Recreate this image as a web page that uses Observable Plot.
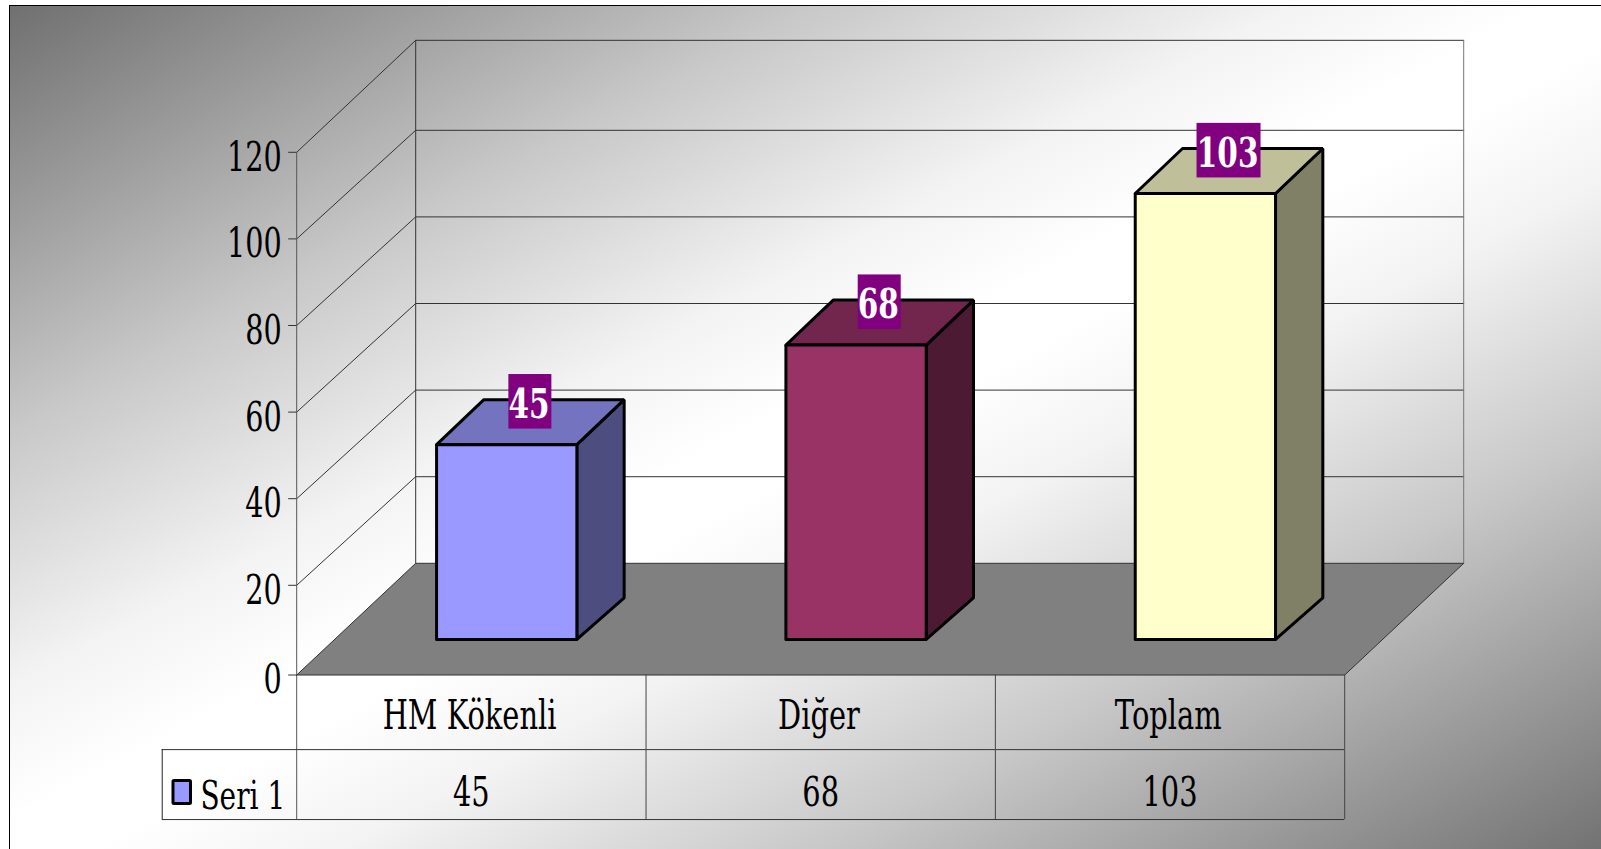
<!DOCTYPE html>
<html><head><meta charset="utf-8">
<script src="https://cdn.jsdelivr.net/npm/d3@7"></script>
<script src="https://cdn.jsdelivr.net/npm/@observablehq/plot@0.6"></script>
<style>
html,body{margin:0;padding:0;background:#fff;overflow:hidden}
#page{position:relative;width:1601px;height:849px;overflow:hidden}
#bg{position:absolute;left:9px;top:5px;width:1600px;height:850px;border-left:1px solid #000;border-top:1px solid #000;
background:linear-gradient(to bottom right,#707070 0%,#c8c8c8 25%,#f3f3f3 40%,#ffffff 48%,#ffffff 52%,#f3f3f3 60%,#c8c8c8 75%,#707070 100%)}
#chart{position:absolute;left:0;top:0}
</style></head><body><div id="page"><div id="bg"></div><div id="chart"></div></div>
<script>
const categories = ["HM Kökenli", "Diğer", "Toplam"];
const values = [45, 68, 103];
const seriesName = "Seri 1";
const yTicks = [0, 20, 40, 60, 80, 100, 120];
const frontColors = ["#9999ff", "#993366", "#ffffcc"];
const topColors = ["#7373bf", "#73264d", "#bfbf99"];
const sideColors = ["#4d4d80", "#4d1a33", "#808066"];

// oblique projection, in scale units
const wallDX = 119 / 349.33, barDX = 0.327, depthY = 25.08;
const d0 = 0.2985, d1 = 0.7125, barLeft = 0.3028, barRight = 0.7044;
const floorDrop = -0.72, topRise = 0.78, sideDrop = -0.8;
const W = (x, v, d) => ({x: x + d * wallDX, y: v + d * depthY});
const B = (x, v, d) => ({x: x + d * barDX, y: v + d * depthY});
const legendX = -0.385, rowA = -17.95, rowB = -34.1;
const catRow = -10.25, valRow = -27.95;

function face(id, pts){ return pts.map(p => ({...p, id})); }
const floorPts = [W(0,floorDrop,0), W(0,0,1), W(3,0,1), W(3,floorDrop,0), W(0,floorDrop,0)];
const fronts = [], tops = [], sides = [];
values.forEach((v, i) => {
  const a = i + barLeft, b = i + barRight;
  fronts.push(...face(i, [B(a,0,d0), B(a,v,d0), B(b,v,d0), B(b,0,d0), B(a,0,d0)]));
  tops.push(...face(i, [B(a,v,d0), B(a,v,d1), B(b,v,d1), B(b,v,d0), B(a,v,d0)]));
  sides.push(...face(i, [B(b,0,d0), B(b,sideDrop,d1), B(b,v,d1), B(b,v,d0), B(b,0,d0)]));
});
const labels = values.map((v, i) => ({
  text: String(v), i,
  ...B(i + (barLeft + barRight) / 2, v, (d0 + d1) / 2),
  half: (v >= 100 ? 32 : 21.5) / 349.33
}));
const gridLines = yTicks.filter(t => t > 0 && t < 120).flatMap((t, i) => [
  {...W(0,t,0), id:i}, {...W(0,t,1), id:i}, {...W(3,t,1), id:i}
]).concat([
  {...W(0,120,0), id:99}, {...W(0,120+topRise,1), id:99}, {...W(3,120+topRise,1), id:99}
]);
const lineColor = "#333";
const fill = (arr) => (d) => arr[d.id];
const FONT = "'DejaVu Serif'";

const chart = Plot.plot({
  width: 1601, height: 849,
  marginLeft: 296.2, marginRight: 256.8, marginTop: 151.8, marginBottom: 177.6,
  style: {background: "transparent", fontFamily: FONT, overflow: "visible"},
  x: {domain: [0, 3], axis: null},
  y: {domain: [0, 120], axis: null},
  marks: [
    // walls and gridlines
    Plot.line(gridLines, {x:"x", y:"y", z:"id", stroke: lineColor, strokeWidth: 1}),
    Plot.line([W(0,0,1), W(0,120+topRise,1)], {x:"x", y:"y", stroke: lineColor, strokeWidth: 1}),
    Plot.line([W(3,0,1), W(3,120+topRise,1)], {x:"x", y:"y", stroke: "#777", strokeWidth: 1}),
    Plot.ruleX([0], {y1: rowB, y2: 120, stroke: "#555", strokeWidth: 1}),
    // floor
    Plot.line(floorPts, {x:"x", y:"y", fill:"#808080", stroke: lineColor, strokeWidth: 1}),
    // bars
    Plot.line(sides, {x:"x", y:"y", z:"id", fill: fill(sideColors), stroke:"#000", strokeWidth: 3, strokeLinejoin:"miter"}),
    Plot.line(tops, {x:"x", y:"y", z:"id", fill: fill(topColors), stroke:"#000", strokeWidth: 3, strokeLinejoin:"miter"}),
    Plot.line(fronts, {x:"x", y:"y", z:"id", fill: fill(frontColors), stroke:"#000", strokeWidth: 3, strokeLinejoin:"miter"}),
    // value labels
    Plot.rect(labels, {x1: d => d.x - d.half, x2: d => d.x + d.half, y1: d => d.y - 1.6, y2: d => d.y + 11.0, fill:"#800080"}),
    Plot.text(labels, {x: d => d.x - 0.004, y:"y", text:"text", dy:-17.5, fill:"#fff", fontSize: 41, fontWeight:"bold", className:"lab"}),
    // axis
    Plot.axisY(yTicks.filter(t => t > 0), {tickSize: 8, fill: "none", stroke: "#333", label: null}),
    Plot.axisY([0], {tickSize: 8, dy: 3.1, fill: "none", stroke: "#333", label: null}),
    Plot.axisY(yTicks.filter(t => t > 0), {tickSize: 0, tickPadding: 15, dy: 5.3, fontSize: 41, fill:"#000", label: null}),
    Plot.axisY([0], {tickSize: 0, tickPadding: 15, dy: 8.4, fontSize: 41, fill:"#000", label: null}),
    // data table
    Plot.ruleY([rowA, rowB], {x1: legendX, x2: 3, stroke: "#333", strokeWidth: 1}),
    Plot.ruleX([1, 2, 3], {y1: rowB, y2: floorDrop, stroke: "#444", strokeWidth: 1}),
    Plot.ruleX([legendX], {y1: rowB, y2: rowA, stroke: "#222", strokeWidth: 1}),
    Plot.text(categories, {x: (d, i) => i + 0.495, y: catRow, text: d => d, fontSize: 41, fill:"#000", className:"wide"}),
    Plot.text(values, {x: (d, i) => i + 0.5, y: valRow, text: d => String(d), fontSize: 41, fill:"#000", className:"wide"}),
    Plot.text([seriesName], {x: -0.1543, y: -28.7, text: d => d, fontSize: 40, fill:"#000"}),
    Plot.rect([seriesName], {x1: -0.3527, x2: -0.3026, y1: -30.5, y2: -25.2, fill: frontColors[0], stroke:"#000", strokeWidth: 3, rx: 1})
  ]
});
chart.querySelectorAll("text").forEach(t => {
  const group = t.closest(".lab, .wide");
  const sx = group ? (group.classList.contains("lab") ? 0.72 : 0.705) : 0.7;
  const tr = t.getAttribute("transform") || "";
  t.setAttribute("transform", tr + ` scale(${sx},1)`);
});
document.getElementById("chart").append(chart);
</script></body></html>
